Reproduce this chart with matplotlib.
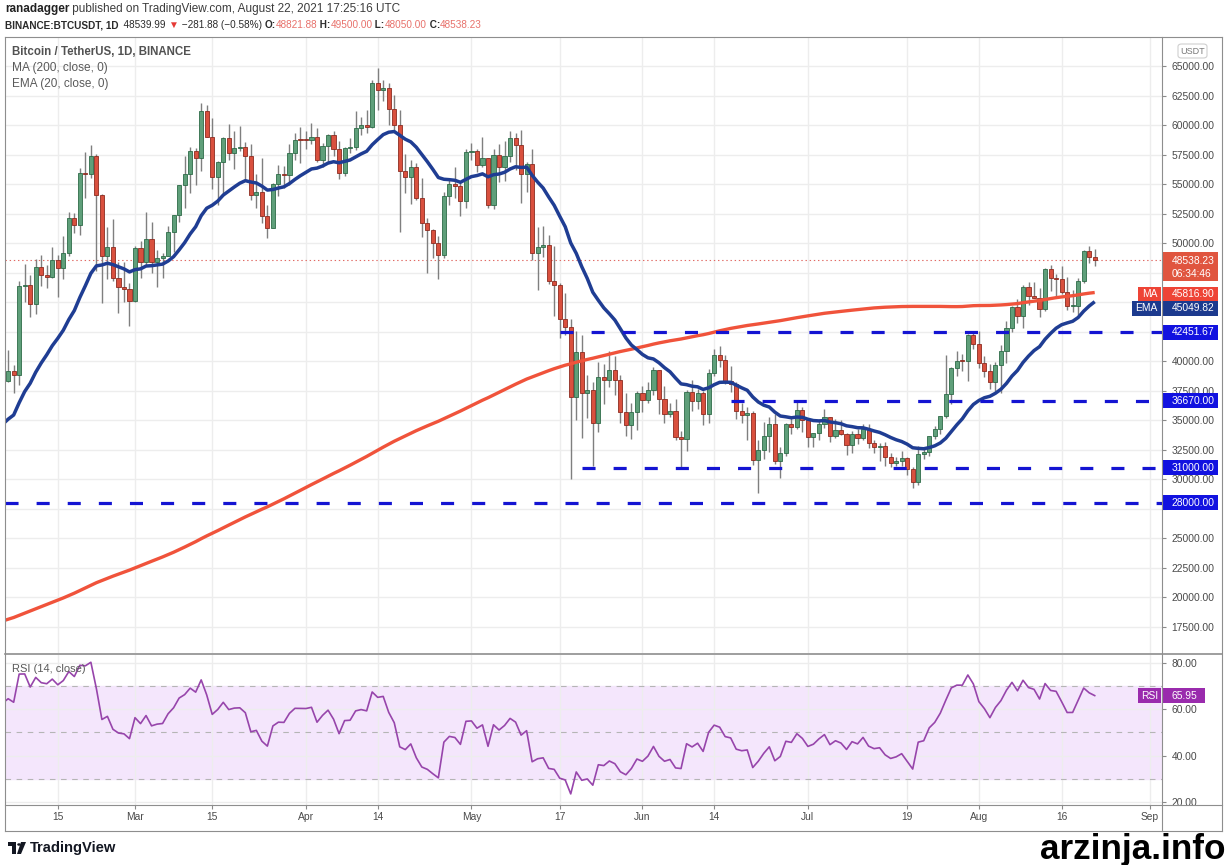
import numpy as np
import pandas as pd
import matplotlib
matplotlib.use("Agg")
import matplotlib.pyplot as plt
import matplotlib.transforms as mtransforms
from matplotlib.patches import Rectangle, Polygon, Circle, FancyBboxPatch
from matplotlib.lines import Line2D

plt.rcParams['font.family'] = ['Liberation Sans', 'DejaVu Sans']
plt.rcParams['lines.scale_dashes'] = False

# closes before the visible window (2020-07-15 .. 2021-02-05), only used to warm up MA/EMA/RSI
prior_closes = [
    9132, 9151, 9158, 9185, 9164, 9160, 9374, 9536, 9608, 9550, 9707, 9934, 11030, 10910, 11100, 11110, 11350,
    11800, 11070, 11230, 11190, 11740, 11770, 11600, 11750, 11680, 11880, 11390, 11570, 11780, 11770, 11860, 11910,
    12280, 11950, 11750, 11870, 11520, 11680, 11650, 11750, 11330, 11460, 11330, 11540, 11480, 11710, 11650,
    11920, 11390, 10170, 10470, 10170, 10250, 10370, 10130, 10230, 10340, 10390, 10440, 10330, 10680, 10790,
    10950, 10940, 10930, 11080, 10920, 10420, 10540, 10240, 10740, 10690, 10730, 10770, 10690, 10840, 10780,
    10620, 10570, 10550, 10670, 10790, 10600, 10670, 10920, 11050, 11300, 11380, 11540, 11430, 11430, 11500,
    11320, 11360, 11480, 11750, 11910, 12820, 12990, 12930, 13130, 13030, 13070, 13650, 13280, 13460, 13560, 13800,
    13760, 13550, 14030, 14150, 15590, 15580, 14830, 15480, 15330, 15310, 15700, 16280, 16320, 16070, 15960,
    16730, 17660, 17780, 17820, 18660, 18700, 18420, 18370, 19160, 18720, 17150, 17140, 17720, 18180, 19700,
    18770, 19220, 19420, 18650, 19150, 19360, 19170, 18320, 18550, 18250, 18040, 18810, 19170, 19270, 19430,
    21330, 22800, 23110, 23820, 23460, 22720, 23820, 23250, 23720, 24690, 26440, 26250, 27030, 27360, 28880, 28920,
    29330, 32180, 33000, 31990, 33950, 36770, 39370, 40670, 40240, 38240, 35540, 34010, 37390, 39150, 36770,
    36090, 35970, 36630, 35890, 35470, 30830, 33000, 32100, 32260, 32250, 32470, 30360, 33360, 34250, 34260, 33090,
    33500, 35480, 37620, 36930, 38290,
]

start_date = '2021-02-06'
first_open = 38289.32

closes = [
    # Feb
    39186, 38795, 46374, 46420, 44807, 47969, 47287, 47153, 48577, 47911, 49133, 52119, 51552, 55906, 55842,
    57408, 54087, 48891, 49676, 47073, 46276, 46106, 45135,
    # Mar
    49587, 48440, 50349, 48374, 48751, 48882, 50971, 52375, 54884, 55851, 57773, 57221, 61188, 58968, 55605,
    56900, 58912, 57648, 58030, 58102, 57351, 54083, 54340, 52303, 51293, 55025, 55817, 55777, 57635, 58746, 58740,
    # Apr
    58720, 58950, 57052, 58202, 59129, 57992, 55954, 58077, 58142, 59770, 60007, 59860, 63575, 62959, 63159,
    61334, 60006, 56150, 55633, 56425, 53787, 51690, 51125, 50047, 49004, 54021, 55033, 54824, 53555, 57750,
    # May
    57828, 56610, 57213, 53241, 57473, 56428, 57380, 58928, 58280, 55859, 56704, 49150, 49716, 49880, 46760,
    46456, 43538, 42909, 36964, 40784, 37281, 37525, 34770, 38705, 38402, 39295, 38436, 35698, 34616, 35678, 37333,
    # Jun
    36693, 37568, 39246, 36829, 35514, 35796, 33552, 33380, 37388, 36675, 37313, 35551, 39020, 40516, 40144,
    38349, 38092, 35820, 35483, 35600, 31608, 32509, 33678, 34663, 31594, 32234, 34649, 34434, 35867, 35041,
    # Jul
    33572, 33897, 34668, 35287, 33690, 34220, 33863, 32875, 33815, 33502, 34259, 33086, 32729, 32820, 31880,
    31383, 31520, 31778, 30839, 29790, 32144, 32287, 33634, 34258, 35381, 37237, 39457, 40019, 40016, 42206, 41461,
    # Aug
    39845, 39147, 38207, 39723, 40862, 42836, 44614, 43792, 46284, 45543, 45364, 44400, 47800, 47068, 46973,
    45901, 44695, 44705, 46760, 49322, 48821.88, 48538.23,
]
highs = [
    40955, 39700, 46794, 48200, 47310, 48678, 48985, 48150, 49707, 49010, 50600, 52618, 52530, 56368, 57700,
    58352, 57533, 54183, 51374, 52041, 48424, 48394, 46638,
    49790, 50200, 52640, 51773, 49448, 49200, 51450, 52402, 54900, 57387, 58150, 58081, 61844, 61683, 60633,
    56938, 58974, 60100, 59468, 59880, 58589, 58430, 55830, 57200, 53230, 55073, 56640, 56559, 58400, 59368, 59800,
    59490, 60200, 59791, 58493, 59272, 59475, 58650, 58153, 58894, 61218, 60658, 61300, 63777, 64854, 63800,
    63520, 62506, 61286, 57526, 57076, 56757, 55521, 52131, 51166, 50591, 54356, 55460, 56428, 55195, 57963,
    58458, 57972, 58981, 57247, 57964, 58360, 58650, 59500, 59300, 59594, 56862, 58000, 51367, 51483, 50700,
    49800, 46643, 45799, 43546, 42536, 42223, 38829, 38270, 39920, 39791, 40900, 40411, 38856, 37338, 36488, 37499,
    37894, 38225, 39476, 39289, 37925, 36480, 36790, 34068, 37534, 38400, 37680, 37463, 39380, 41064, 41330,
    40527, 39560, 38202, 36457, 36137, 35750, 33298, 34881, 35298, 35500, 32730, 34749, 35297, 36600, 36100,
    35036, 33939, 34945, 35967, 35293, 35118, 35059, 33929, 34100, 34262, 34666, 34678, 33340, 33114, 33185,
    32249, 31935, 32435, 31899, 31063, 32858, 32591, 33650, 34500, 35398, 40550, 39542, 40900, 40640, 42316, 42448,
    42599, 40459, 39780, 39969, 41350, 43392, 44700, 45310, 46454, 46700, 46743, 46218, 47886, 48144, 47372,
    48053, 47160, 46000, 47033, 49382, 49757, 49500,
]
lows = [
    38215, 37351, 37988, 45020, 43727, 43994, 46400, 46202, 47014, 45440, 47003, 48947, 50902, 50711, 53863,
    55477, 47622, 44892, 47003, 46817, 44106, 45000, 43000,
    45000, 47047, 48100, 47500, 46300, 47070, 48882, 49274, 51789, 53005, 54270, 54962, 56078, 58966, 54600,
    53271, 54123, 57023, 56270, 57820, 55450, 53650, 53000, 51700, 50427, 51283, 53966, 54691, 54901, 57000, 56769,
    57935, 58418, 56880, 56478, 56800, 57413, 55473, 55700, 57654, 57875, 59177, 59350, 59780, 61301, 62020,
    60000, 59580, 50931, 54221, 53329, 53696, 50500, 47500, 48733, 46930, 48753, 53222, 53813, 52330, 53013,
    57052, 56035, 56435, 53000, 52900, 55200, 55241, 56900, 56235, 53400, 54370, 48600, 46000, 48868, 46555,
    43825, 42001, 42250, 30000, 35000, 33488, 35200, 31111, 34031, 36419, 37800, 37134, 34779, 33632, 33379, 34153,
    35666, 36479, 37170, 35555, 34800, 35258, 33350, 31000, 32396, 35784, 35936, 34600, 34757, 38730, 39506,
    38116, 37365, 35129, 34803, 33336, 31251, 28805, 31683, 32286, 31275, 30151, 32000, 33862, 34225, 34017,
    32711, 32699, 33316, 34357, 33125, 33532, 33771, 32077, 32261, 33004, 33306, 32658, 32202, 31550, 31133,
    31020, 31164, 31108, 30407, 29278, 29482, 31708, 32000, 33401, 33881, 35205, 36383, 38772, 39200, 38313, 41000,
    39422, 38690, 37642, 37508, 37332, 39853, 42446, 43261, 42779, 44742, 45341, 43770, 44217, 45971, 45500,
    45660, 44376, 44203, 43927, 46622, 48280, 48050,
]

levels = [42451.67, 36670.00, 31000.00, 28000.00]
level_from = ['2021-05-17', '2021-06-17', '2021-05-21', None]

tick_dates = ['2021-02-15', '2021-03-01', '2021-03-15', '2021-04-01', '2021-04-14', '2021-05-01', '2021-05-17',
              '2021-06-01', '2021-06-14', '2021-07-01', '2021-07-19', '2021-08-01', '2021-08-16', '2021-09-01']
tick_labels = ['15', 'Mar', '15', 'Apr', '14', 'May', '17', 'Jun', '14', 'Jul', '19', 'Aug', '16', 'Sep']
# price labels that sit fully under a value box on the chart
hidden_price_ticks = [47500, 45000, 27500]

last_price = 48538.23
countdown = '06:34:46'
ma_value = 45816.90
ema_value = 45049.82
rsi_value = 65.95

# ---- indicators ----
n = len(closes)
dates = pd.date_range(start_date, periods=n)
opens = [first_open] + closes[:-1]
allc = pd.Series(prior_closes + closes, dtype=float)
xs_all = np.arange(-len(prior_closes), n)
ma200 = allc.rolling(200).mean()
ema20 = allc.ewm(span=20, adjust=False).mean()
d = allc.diff()
up_avg = d.clip(lower=0).ewm(alpha=1 / 14, adjust=False).mean()
dn_avg = (-d.clip(upper=0)).ewm(alpha=1 / 14, adjust=False).mean()
rsi = 100 - 100 / (1 + up_avg / dn_avg)


def day_idx(s):
    return (pd.Timestamp(s) - dates[0]).days


W, H = 1229, 865


def fx(p):
    return p / W


def fy(p):
    return 1 - p / H


fig = plt.figure(figsize=(W / 100, H / 100), dpi=100, facecolor='white')
renderer = fig.canvas.get_renderer()

ax = fig.add_axes([fx(5), fy(653), fx(1162) - fx(5), fy(37) - fy(653)])
ax2 = fig.add_axes([fx(5), fy(805), fx(1162) - fx(5), fy(655) - fy(805)])

XL = (-0.57, 209.2)
YL = (15299, 67455)
RL = (18.7, 83.45)
main_per_px = (YL[1] - YL[0]) / 616
rsi_per_px = (RL[1] - RL[0]) / 150

GRID = '#ededed'
TXT = '#4a4a4a'
tick_x = [day_idx(t) for t in tick_dates]

for a in (ax, ax2):
    for sp in a.spines.values():
        sp.set_visible(False)
    a.set_xticks(tick_x)
    a.grid(True, color=GRID, lw=1, zorder=0)
    a.set_axisbelow(True)
    a.yaxis.tick_right()
    a.tick_params(axis='y', length=3, width=0.8, color='#8a8a8a', pad=4, labelsize=7.4, labelcolor=TXT)

ax.tick_params(axis='x', length=0, labelbottom=False)
ax2.tick_params(axis='x', length=3, width=0.8, color='#8a8a8a', pad=2, labelsize=7.4, labelcolor=TXT)
ax2.set_xticklabels(tick_labels)

price_ticks = np.arange(17500, 65001, 2500)
ax.set_yticks(price_ticks)
ax.set_yticklabels(['' if v in hidden_price_ticks else f'{v:.2f}' for v in price_ticks])
ax2.set_yticks([20, 40, 60, 80])
ax2.set_yticklabels([f'{v:.2f}' for v in [20, 40, 60, 80]])

# ---- candles ----
x = np.arange(n)
o = np.array(opens, dtype=float)
c = np.array(closes, dtype=float)
h = np.array(highs, dtype=float)
l = np.array(lows, dtype=float)
up = c >= o
ax.vlines(x, l, h, color='#7f7f7f', lw=1, zorder=2)
body = np.maximum(np.abs(c - o), 80)
bot = np.minimum(o, c)
ax.bar(x[up], body[up], bottom=bot[up], width=0.75, color='#5f9f7a', edgecolor='#2e6b48', linewidth=0.6, zorder=3)
ax.bar(x[~up], body[~up], bottom=bot[~up], width=0.75, color='#d9503e', edgecolor='#8c2b20', linewidth=0.6, zorder=3)

# ---- indicators on price ----
ax.plot(xs_all, ma200, color='#f0533b', lw=2.4, zorder=4, solid_capstyle='butt')
ax.plot(xs_all, ema20, color='#1f3d93', lw=2.5, zorder=4, solid_capstyle='butt')

# ---- horizontal levels ----
for lv, frm in zip(levels, level_from):
    x0 = XL[0] if frm is None else day_idx(frm)
    ax.hlines(lv, x0, XL[1], colors='#1414d2', lw=2.3, linestyles=[(0, (9.4, 13))], zorder=5)

ax.axhline(last_price, color='#e06a64', ls=(0, (1, 2)), lw=0.8, zorder=1)

ax.set_xlim(*XL)
ax.set_ylim(*YL)

# ---- RSI pane ----
ax2.axhspan(30, 70, color='#f4e6fc', zorder=0.5)
for lv in (70, 50, 30):
    ax2.axhline(lv, color='#b5b5b5', lw=0.8, ls=(0, (4, 4)), zorder=1)
ax2.plot(xs_all, rsi, color='#9745ab', lw=1.2, zorder=3)
ax2.set_xlim(*XL)
ax2.set_ylim(*RL)


# ---- right-axis value boxes ----
def box(a, yval, per_px, text, color, x0=1163, x1=1218, hpx=15, dy=0, tx=1172, ha='left'):
    tr = mtransforms.blended_transform_factory(fig.transFigure, a.transData)
    yc = yval - dy * per_px
    a.add_patch(Rectangle((fx(x0), yc - hpx / 2 * per_px), fx(x1) - fx(x0), hpx * per_px, transform=tr,
                          facecolor=color, edgecolor='none', clip_on=False, zorder=10))
    if text:
        a.text(fx(tx), yc, text, transform=tr, color='white', fontsize=7.4, ha=ha, va='center',
               clip_on=False, zorder=11)


for lv in levels:
    box(ax, lv, main_per_px, f'{lv:.2f}', '#1212e0')

box(ax, last_price, main_per_px, '', '#e0553f', hpx=29, dy=6)
tr_main = mtransforms.blended_transform_factory(fig.transFigure, ax.transData)
ax.text(fx(1172), last_price - 0.5 * main_per_px, f'{last_price:.2f}', transform=tr_main, color='white',
        fontsize=7.4, va='center', ha='left', clip_on=False, zorder=11)
ax.text(fx(1172), last_price - 13.5 * main_per_px, countdown, transform=tr_main, color='white',
        fontsize=7.4, va='center', ha='left', clip_on=False, zorder=11)

box(ax, ma_value, main_per_px, f'{ma_value:.2f}', '#ee4436', dy=1.5)
box(ax, ma_value, main_per_px, 'MA', '#ee4436', x0=1138, x1=1161, dy=1.5, tx=1149.5, ha='center')
box(ax, ema_value, main_per_px, f'{ema_value:.2f}', '#1c3a8e', dy=6.5)
box(ax, ema_value, main_per_px, 'EMA', '#1c3a8e', x0=1132, x1=1161, dy=6.5, tx=1146.5, ha='center')
box(ax2, rsi_value, rsi_per_px, f'{rsi_value:.2f}', '#9a2bad', x1=1205)
box(ax2, rsi_value, rsi_per_px, 'RSI', '#9a2bad', x0=1138, x1=1161, tx=1149.5, ha='center')

# USDT tag
fig.add_artist(FancyBboxPatch((fx(1178), fy(58)), fx(1207) - fx(1178), fy(44) - fy(58),
                              boxstyle='round,pad=0,rounding_size=0.003', transform=fig.transFigure,
                              facecolor='white', edgecolor='#cfcfcf', lw=0.8))
fig.text(fx(1192.5), fy(51), 'USDT', fontsize=6.5, color='#777777', ha='center', va='center')

# ---- frame lines ----
FRAME = '#8e8e8e'


def fline(x0, y0, x1, y1, color=FRAME, lw=0.8):
    fig.add_artist(Line2D([fx(x0), fx(x1)], [fy(y0), fy(y1)], color=color, lw=lw, transform=fig.transFigure))


fline(5, 37, 1222, 37)
fline(5, 831, 1222, 831)
fline(5, 37, 5, 831)
fline(1222, 37, 1222, 831)
fline(1162, 37, 1162, 831)
fline(5, 654, 1222, 654, lw=1.2)
fline(5, 805, 1222, 805)

HEAD_FONT = ['Liberation Sans Narrow', 'Liberation Sans', 'DejaVu Sans']


# ---- text helpers ----
def width_of(s, size, weight='normal', family=None):
    fam = family or plt.rcParams['font.family']
    t = fig.text(0, 0, '|' + s + '|', fontsize=size, fontweight=weight, family=fam)
    t2 = fig.text(0, 0, '||', fontsize=size, fontweight=weight, family=fam)
    w = t.get_window_extent(renderer).width - t2.get_window_extent(renderer).width
    t.remove()
    t2.remove()
    return w


def fit_runs(x0, x1, yc, runs, family=None):
    base = 10
    total = sum(width_of(s, base, wt, family) for s, _, wt in runs)
    size = base * (x1 - x0) / total
    xp = x0
    fam = family or plt.rcParams['font.family']
    for s, col, wt in runs:
        fig.text(fx(xp), fy(yc), s, fontsize=size, fontweight=wt, color=col, ha='left', va='center', family=fam)
        xp += width_of(s, size, wt, family)


DARK = '#2b2b2b'
RED = '#e8716b'
fit_runs(5, 400, 9, [('ranadagger', '#222222', 'bold'),
                     (' published on TradingView.com, August 22, 2021 17:25:16 UTC', '#3c3c3c', 'normal')],
         family=HEAD_FONT)
fit_runs(5, 483, 25, [('BINANCE:BTCUSDT, 1D', DARK, 'bold'), ('  48539.99 ', DARK, 'normal'),
                      ('▼', '#e53935', 'normal'), (' −281.88 (−0.58%) ', DARK, 'normal'), ('O:', DARK, 'bold'),
                      ('48821.88', RED, 'normal'), (' H:', DARK, 'bold'), ('49500.00', RED, 'normal'),
                      (' L:', DARK, 'bold'), ('48050.00', RED, 'normal'), (' C:', DARK, 'bold'),
                      ('48538.23', RED, 'normal')], family=HEAD_FONT)
fit_runs(12, 191, 52, [('Bitcoin / TetherUS, 1D, BINANCE', '#525252', 'bold')])
fit_runs(12, 108, 68, [('MA (200, close, 0)', '#5a5a5a', 'normal')])
fit_runs(12, 108, 84, [('EMA (20, close, 0)', '#5a5a5a', 'normal')])
fit_runs(12, 86, 669, [('RSI (14, close)', '#5a5a5a', 'normal')])
fit_runs(30, 117, 848, [('TradingView', '#131722', 'bold')])
fit_runs(1040, 1225, 849, [('arzinja.info', '#000000', 'bold')])

# TradingView logo mark
LOGO = '#131722'
fig.add_artist(Polygon([(fx(8), fy(842)), (fx(16), fy(842)), (fx(16), fy(854)), (fx(12), fy(854)),
                        (fx(12), fy(846)), (fx(8), fy(846))], closed=True, transform=fig.transFigure,
                       facecolor=LOGO, edgecolor='none'))
fig.add_artist(Circle((fx(19), fy(844.5)), 1.8 / W, transform=fig.transFigure, facecolor=LOGO, edgecolor='none'))
fig.add_artist(Polygon([(fx(21), fy(842)), (fx(26), fy(842)), (fx(21), fy(854)), (fx(17), fy(854))],
                       closed=True, transform=fig.transFigure, facecolor=LOGO, edgecolor='none'))

fig.savefig('out.png', dpi=100, facecolor='white')
